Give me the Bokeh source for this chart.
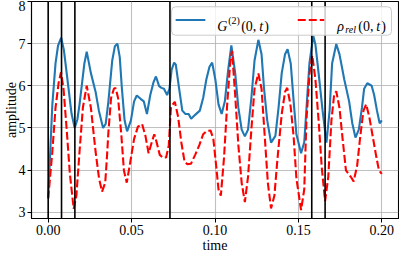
from bokeh.plotting import figure
from bokeh.models import (Span, FixedTicker, ColumnDataSource, BoxAnnotation, Arrow,
                          Label, CustomJSTickFormatter)
from bokeh.embed import file_html
from bokeh.resources import INLINE

# ---- data ----
t_g2 = [0.0000, 0.0025, 0.0044, 0.0059, 0.0078, 0.0094, 0.0111, 0.0140, 0.0159, 0.0175,
        0.0188, 0.0217, 0.0231, 0.0256, 0.0284, 0.0304, 0.0329, 0.0345, 0.0361, 0.0384,
        0.0400, 0.0415, 0.0429, 0.0442, 0.0458, 0.0473, 0.0496, 0.0515, 0.0531, 0.0554,
        0.0573, 0.0592, 0.0612, 0.0631, 0.0646, 0.0665, 0.0679, 0.0694, 0.0713, 0.0727,
        0.0740, 0.0755, 0.0765, 0.0785, 0.0804, 0.0823, 0.0842, 0.0857, 0.0881, 0.0909,
        0.0929, 0.0948, 0.0967, 0.0983, 0.1002, 0.1021, 0.1040, 0.1059, 0.1079, 0.1098,
        0.1121, 0.1140, 0.1160, 0.1179, 0.1198, 0.1218, 0.1237, 0.1260, 0.1279, 0.1294,
        0.1313, 0.1336, 0.1362, 0.1381, 0.1400, 0.1420, 0.1435, 0.1454, 0.1473, 0.1488,
        0.1516, 0.1535, 0.1550, 0.1566, 0.1589, 0.1602, 0.1621, 0.1645, 0.1668, 0.1687,
        0.1702, 0.1727, 0.1746, 0.1775, 0.1804, 0.1823, 0.1842, 0.1862, 0.1881, 0.1894,
        0.1913, 0.1939, 0.1954, 0.1971, 0.1987, 0.2000]
g2 = [3.35, 5.56, 6.53, 6.95, 7.14, 6.85, 6.30, 5.34, 5.00, 5.20,
      5.56, 6.53, 6.81, 6.30, 5.86, 5.41, 5.00, 5.10, 5.63, 6.60,
      6.94, 7.00, 6.68, 5.93, 5.18, 4.92, 5.18, 5.63, 5.77, 5.69,
      5.63, 5.33, 5.78, 6.08, 6.22, 5.99, 5.95, 5.93, 5.78, 5.93,
      6.38, 6.55, 6.50, 5.93, 5.41, 5.33, 5.33, 5.22, 5.31, 5.41,
      5.71, 6.15, 6.45, 6.55, 6.15, 5.56, 5.33, 5.63, 6.38, 6.96,
      6.30, 5.48, 4.96, 4.80, 4.96, 5.71, 6.60, 7.09, 6.75, 5.93,
      5.18, 4.65, 4.81, 5.48, 6.30, 6.75, 6.87, 6.53, 5.56, 4.85,
      4.40, 4.66, 5.56, 6.53, 7.19, 6.98, 6.30, 5.41, 4.65, 5.41,
      6.53, 6.99, 6.75, 6.15, 5.63, 5.11, 4.77, 4.96, 5.48, 5.93,
      6.06, 6.00, 5.78, 5.41, 5.11, 5.18]

t_rho = [0.0000, 0.0025, 0.0044, 0.0063, 0.0077, 0.0092, 0.0111, 0.0130, 0.0153, 0.0169,
         0.0188, 0.0208, 0.0231, 0.0256, 0.0284, 0.0305, 0.0323, 0.0342, 0.0352, 0.0361,
         0.0377, 0.0394, 0.0404, 0.0419, 0.0439, 0.0454, 0.0471, 0.0490, 0.0515, 0.0538,
         0.0563, 0.0583, 0.0602, 0.0621, 0.0636, 0.0650, 0.0669, 0.0688, 0.0707, 0.0723,
         0.0736, 0.0759, 0.0779, 0.0798, 0.0817, 0.0833, 0.0856, 0.0881, 0.0906, 0.0929,
         0.0948, 0.0973, 0.0990, 0.1006, 0.1021, 0.1035, 0.1054, 0.1073, 0.1092, 0.1102,
         0.1121, 0.1140, 0.1160, 0.1179, 0.1198, 0.1218, 0.1237, 0.1260, 0.1279, 0.1298,
         0.1317, 0.1336, 0.1356, 0.1375, 0.1400, 0.1420, 0.1433, 0.1452, 0.1471, 0.1488,
         0.1516, 0.1535, 0.1548, 0.1567, 0.1583, 0.1602, 0.1621, 0.1640, 0.1660, 0.1679,
         0.1698, 0.1714, 0.1727, 0.1746, 0.1766, 0.1785, 0.1814, 0.1831, 0.1852, 0.1871,
         0.1890, 0.1906, 0.1925, 0.1948, 0.1968, 0.1983, 0.2000]
rho = [3.32, 4.44, 5.48, 6.08, 6.32, 5.93, 4.96, 3.91, 3.08, 3.39,
       4.44, 5.48, 6.00, 5.48, 4.44, 3.80, 3.49, 3.70, 4.29, 4.90,
       5.71, 5.93, 5.95, 5.71, 4.81, 3.99, 3.70, 4.14, 4.74, 5.03,
       5.09, 4.81, 4.40, 4.66, 4.85, 4.66, 4.36, 4.29, 4.30, 4.59,
       5.50, 5.62, 5.26, 4.66, 4.21, 4.14, 4.15, 4.36, 4.59, 4.85,
       4.92, 4.94, 4.74, 4.14, 3.54, 3.39, 4.29, 5.56, 6.60, 6.83,
       5.78, 4.59, 3.69, 3.24, 3.84, 4.96, 5.93, 6.29, 5.93, 4.81,
       3.69, 3.09, 3.39, 4.29, 5.33, 5.86, 5.95, 5.56, 4.81, 3.80,
       3.05, 3.54, 5.18, 6.30, 6.72, 6.15, 5.18, 4.06, 3.26, 3.84,
       5.18, 5.78, 5.87, 5.48, 4.70, 3.99, 3.84, 3.73, 4.10, 4.81,
       5.41, 5.56, 5.26, 4.74, 4.29, 3.99, 3.91]

vlines = [0.0, 0.008, 0.016, 0.073, 0.158, 0.166]
x_ticks = [0.0, 0.05, 0.10, 0.15, 0.20]
y_ticks = [3, 4, 5, 6, 7, 8]

FONT = "Liberation Serif"
BLUE = "#1f77b4"

p = figure(width=399, height=255, x_range=(-0.01, 0.21), y_range=(2.85, 8.0),
           output_backend="svg", toolbar_location=None,
           x_axis_label="time", y_axis_label="amplitude",
           min_border_left=0, min_border_right=1, min_border_top=1, min_border_bottom=0)

p.outline_line_color = "black"
p.outline_line_width = 1.1
p.background_fill_color = "white"

for ax in (p.xaxis[0], p.yaxis[0]):
    ax.axis_line_color = "black"
    ax.axis_line_width = 1.1
    ax.major_tick_line_color = "black"
    ax.major_tick_in = 0
    ax.major_tick_out = 4
    ax.minor_tick_line_color = None
    ax.major_label_text_font = FONT
    ax.major_label_text_font_size = "14px"
    ax.major_label_text_color = "black"
    ax.axis_label_text_font = FONT
    ax.axis_label_text_font_size = "14px"
    ax.axis_label_text_font_style = "normal"
    ax.axis_label_text_color = "black"

p.xaxis.major_label_standoff = 2
p.xaxis.axis_label_standoff = 0
p.yaxis.major_label_standoff = 2
p.yaxis.axis_label_standoff = -3

p.xaxis.ticker = FixedTicker(ticks=x_ticks)
p.yaxis.ticker = FixedTicker(ticks=y_ticks)
p.xaxis.formatter = CustomJSTickFormatter(code="return tick.toFixed(2);")

p.xgrid.ticker = FixedTicker(ticks=x_ticks)
p.ygrid.ticker = FixedTicker(ticks=y_ticks)
p.grid.grid_line_color = "#b0b0b0"
p.grid.grid_line_width = 1.1
p.grid.grid_line_alpha = 0.8

src_g2 = ColumnDataSource(dict(t=t_g2, y=g2))
src_rho = ColumnDataSource(dict(t=t_rho, y=rho))

p.line("t", "y", source=src_g2, line_color=BLUE, line_width=2.1)
p.line("t", "y", source=src_rho, line_color="red", line_width=2.1, line_dash="8 3")

for v in vlines:
    p.add_layout(Span(location=v, dimension="height", line_color="black", line_width=1.6))

# ---- legend (drawn by hand so the math labels can be composed) ----
p.add_layout(BoxAnnotation(left=0.0740, right=0.2058, bottom=7.20, top=7.875,
                           fill_color="white", fill_alpha=0.8,
                           line_color="#cccccc", line_width=1, line_alpha=1,
                           border_radius=4))
p.add_layout(Arrow(x_start=0.0764, y_start=7.56, x_end=0.0942, y_end=7.56, end=None,
                   line_color=BLUE, line_width=2.1))
p.add_layout(Arrow(x_start=0.1496, y_start=7.56, x_end=0.1655, y_end=7.56, end=None,
                   line_color="red", line_width=2.1, line_dash="8 3"))

def piece(x, text, dx, dy=0, size="14px", style="normal"):
    p.add_layout(Label(x=x, y=7.415, text=text, x_offset=dx, y_offset=dy,
                       text_font=FONT, text_font_size=size, text_font_style=style,
                       text_color="black", text_baseline="alphabetic", text_align="left"))

# G^(2)(0,t)
piece(0.1013, "G", 0, style="italic")
piece(0.1013, "(2)", 11, dy=6, size="10px")
piece(0.1013, "(0,", 24)
piece(0.1013, "t", 42, style="italic")
piece(0.1013, ")", 47)
# rho_rel(0,t)
piece(0.1733, "ρ", 0, style="italic")
piece(0.1733, "rel", 8, dy=-3, size="10px", style="italic")
piece(0.1733, "(0,", 21)
piece(0.1733, "t", 39, style="italic")
piece(0.1733, ")", 44)

open("out.html", "w").write(file_html(p, INLINE))
